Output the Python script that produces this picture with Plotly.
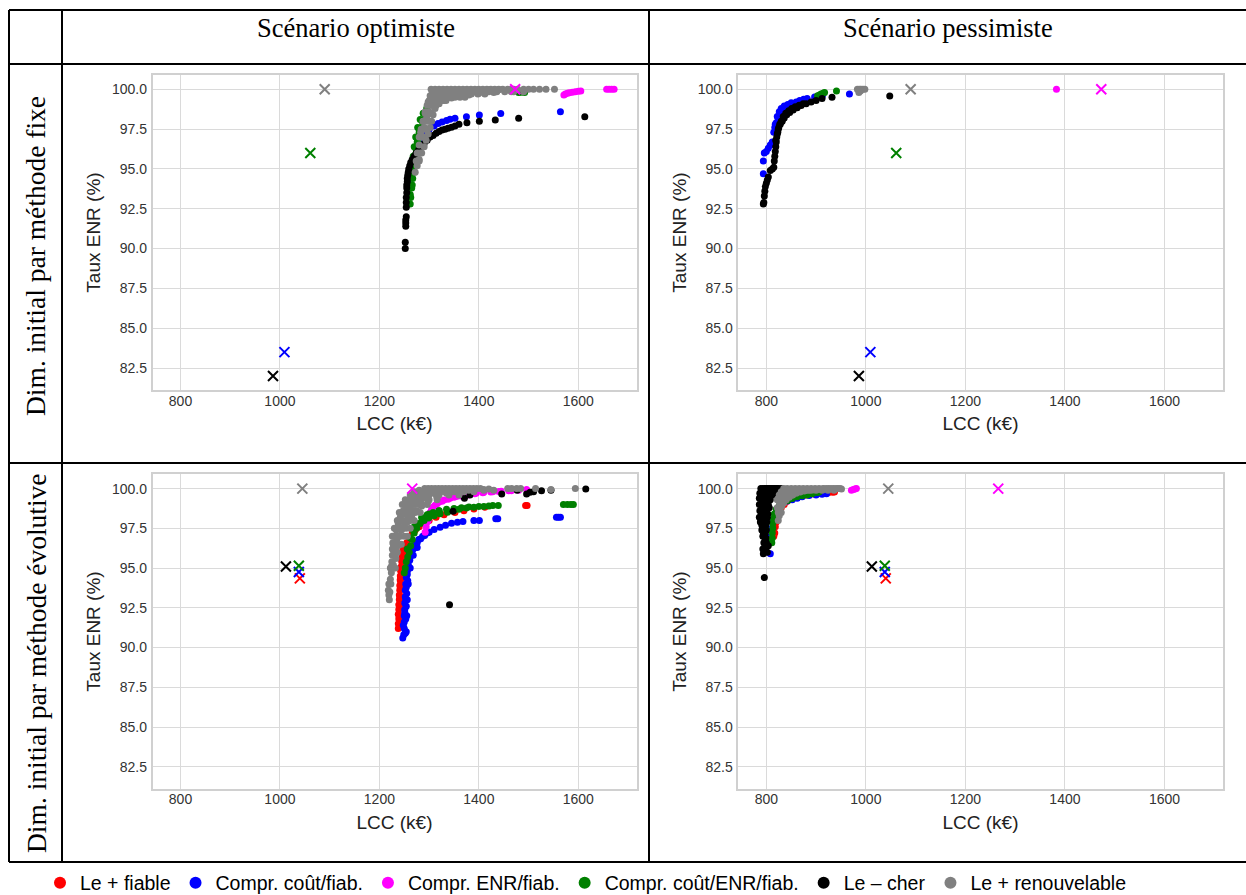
import plotly.graph_objects as go

# ---------------- data ----------------
SERIES = ["Le + fiable", "Compr. coût/fiab.", "Compr. ENR/fiab.",
          "Compr. coût/ENR/fiab.", "Le – cher", "Le + renouvelable"]
COLORS = ["#ff0000", "#0000ff", "#ff00ff", "#008000", "#000000", "#808080"]

COL_TITLES = ["Scénario optimiste", "Scénario pessimiste"]
ROW_TITLES = ["Dim. initial par méthode fixe", "Dim. initial par méthode évolutive"]
X_TICKS = [800, 1000, 1200, 1400, 1600]
Y_TICKS = [82.5, 85.0, 87.5, 90.0, 92.5, 95.0, 97.5, 100.0]
X_TITLE = "LCC (k€)"
Y_TITLE = "Taux ENR (%)"

# initial designs (x markers), per row, per series (None = absent)
init_fixed_lcc = [None, 1009, 1473, 1061, 986, 1090]
init_fixed_enr = [None, 83.5, 100.0, 96.0, 82.0, 100.0]
init_evol_lcc = [1040, 1038, 1266, 1038, 1012, 1045]
init_evol_enr = [94.35, 94.75, 100.0, 95.15, 95.1, 100.0]

# ---- panel A : fixed / optimist ----
A_red_lcc, A_red_enr = [], []
A_blue_lcc = [1258, 1262, 1266, 1270, 1275, 1280, 1285, 1292, 1300, 1310, 1318, 1326, 1335, 1342, 1352, 1375, 1401, 1444, 1564]
A_blue_enr = [94.3, 94.8, 95.2, 95.6, 96.1, 96.6, 96.9, 97.2, 97.5, 97.7, 97.85, 97.95, 98.05, 98.12, 98.18, 98.28, 98.39, 98.49, 98.6]
A_mag_lcc = [1465, 1470, 1571, 1574, 1578, 1582, 1588, 1594, 1600, 1605, 1657, 1662, 1667, 1672]
A_mag_enr = [100, 100, 99.64, 99.7, 99.75, 99.78, 99.82, 99.85, 99.88, 99.9, 100, 100, 100, 100]
A_green_lcc = [1262, 1262, 1263, 1264, 1266, 1268, 1270, 1273, 1277, 1282, 1288, 1295, 1305,
               1266, 1270, 1272, 1275, 1279, 1284, 1290, 1298, 1480, 1485, 1492,
               1263, 1265, 1267, 1269, 1271, 1274, 1277, 1281, 1286, 1292, 1268, 1272, 1276, 1280]
A_green_enr = [92.8, 93.4, 94.0, 94.6, 95.2, 95.8, 96.4, 97.0, 97.6, 98.1, 98.5, 98.8, 99.1,
               94.0, 94.8, 95.6, 96.3, 97.0, 97.6, 98.1, 98.5, 99.8, 99.82, 99.8,
               93.2, 93.8, 94.4, 95.0, 95.6, 96.2, 96.8, 97.4, 98.0, 98.5, 95.0, 95.9, 96.7, 97.3]
A_black_lcc = [1252, 1252, 1253, 1253, 1253, 1254, 1254, 1254, 1254, 1255, 1255, 1255, 1256, 1256, 1257, 1258, 1259,
               1261, 1263, 1266, 1270, 1274, 1279, 1284, 1290, 1296, 1302, 1308, 1314, 1320, 1326, 1332, 1338,
               1345, 1352, 1360, 1376, 1401, 1433, 1480, 1613]
A_black_enr = [90.0, 90.4, 91.4, 91.6, 91.8, 92.0, 92.6, 92.9, 93.2, 93.5, 93.8, 94.0, 94.2, 94.4, 94.6, 94.8, 95.0,
               95.2, 95.4, 95.6, 95.8, 96.0, 96.2, 96.4, 96.6, 96.8, 97.0, 97.1, 97.25, 97.35, 97.45, 97.5, 97.55,
               97.62, 97.7, 97.8, 97.9, 98.0, 98.07, 98.18, 98.28]
A_grey_lcc = [1272, 1276, 1280, 1285, 1290, 1294, 1298, 1302, 1305, 1308, 1312, 1320, 1330, 1345, 1360, 1380, 1400, 1430, 1465,
              1285, 1290, 1295, 1300, 1305, 1310, 1318, 1330, 1345, 1360, 1280, 1283, 1288, 1292, 1298, 1302,
              1315, 1325, 1340, 1355, 1370, 1385, 1400, 1420, 1440,
              1304, 1312, 1320, 1328, 1336, 1344, 1352, 1360, 1368, 1376, 1384, 1392, 1400, 1408, 1416, 1424,
              1432, 1440, 1448, 1458, 1468, 1478, 1490, 1500, 1510, 1522, 1535, 1552,
              1296, 1302, 1308, 1314,
              1300, 1306, 1312, 1318, 1326, 1334,
              1304, 1312, 1320, 1328, 1336, 1344, 1352, 1362, 1372,
              1306, 1314, 1322, 1330, 1340, 1350, 1360, 1372, 1385, 1398, 1412,
              1310, 1320, 1330, 1342, 1354, 1366, 1378, 1392, 1406, 1420, 1436, 1452, 1470, 1490,
              1292, 1298, 1304, 1288, 1294, 1300, 1284, 1290, 1296, 1280, 1286, 1292, 1276, 1282, 1274, 1280]
A_grey_enr = [94.8, 95.2, 95.6, 96.0, 96.4, 96.8, 97.2, 97.6, 98.0, 98.4, 98.8, 99.1, 99.3, 99.45, 99.55, 99.65, 99.75, 99.8, 99.85,
              97.0, 97.6, 98.2, 98.6, 99.0, 99.4, 99.6, 99.8, 99.9, 99.7, 96.5, 97.3, 98.0, 98.6, 99.2, 99.6,
              99.5, 99.7, 99.75, 99.85, 99.9, 99.92, 99.95, 99.97, 99.97,
              100, 100, 100, 100, 100, 100, 100, 100, 100, 100, 100, 100, 100, 100, 100, 100,
              100, 100, 100, 100, 100, 100, 100, 100, 100, 100, 100, 100,
              99.0, 99.0, 99.0, 99.0,
              99.3, 99.3, 99.3, 99.3, 99.3, 99.3,
              99.5, 99.5, 99.5, 99.5, 99.5, 99.5, 99.5, 99.5, 99.5,
              99.7, 99.7, 99.7, 99.7, 99.7, 99.7, 99.7, 99.7, 99.7, 99.7, 99.7,
              99.85, 99.85, 99.85, 99.85, 99.85, 99.85, 99.85, 99.85, 99.85, 99.85, 99.85, 99.85, 99.85, 99.85,
              98.5, 98.5, 98.5, 98.0, 98.0, 98.0, 97.5, 97.5, 97.5, 97.0, 97.0, 97.0, 96.0, 96.0, 95.5, 95.5]

# ---- panel B : fixed / pessimist ----
B_red_lcc, B_red_enr = [], []
B_blue_lcc = [794, 794, 796, 800, 804, 808, 812, 815, 817, 820, 824, 828, 833, 840, 846, 852, 860, 867, 875, 882, 897, 905, 913, 967,
              818, 822, 826, 830, 836, 843, 850]
B_blue_enr = [94.7, 95.5, 96.0, 96.1, 96.3, 96.5, 96.7, 97.3, 97.6, 97.9, 98.2, 98.45, 98.65, 98.85, 99.0, 99.1, 99.2, 99.3, 99.38, 99.43, 99.52, 99.58, 99.63, 99.7,
              97.8, 98.3, 98.6, 98.8, 98.95, 99.05, 99.15]
B_mag_lcc = [1383]
B_mag_enr = [100.0]
B_green_lcc = [903, 907, 910, 914, 917, 941]
B_green_enr = [99.6, 99.65, 99.7, 99.75, 99.8, 99.9]
B_black_lcc = [794, 795, 796, 797, 798, 800, 802, 804, 808, 812, 815, 816, 817, 818, 819, 820, 821, 823, 825, 828, 832, 836,
               841, 847, 854, 862, 870, 880, 890, 900, 912, 932, 1048,
               819, 822, 824, 827, 830, 834, 839, 845, 851, 858, 866, 874]
B_black_enr = [92.8, 92.9, 93.3, 93.6, 93.9, 94.1, 94.3, 94.5, 94.9, 95.0, 95.1, 95.5, 95.8, 96.1, 96.4, 96.7, 97.0, 97.3, 97.6, 97.8, 98.0, 98.2,
               98.4, 98.55, 98.7, 98.85, 98.98, 99.1, 99.2, 99.3, 99.42, 99.5, 99.58,
               96.8, 97.2, 97.5, 97.8, 98.0, 98.3, 98.5, 98.65, 98.8, 98.9, 99.0, 99.1]
B_grey_lcc = [983, 987, 990, 994, 998, 986, 989]
B_grey_enr = [100, 100, 100, 100, 100, 99.8, 99.9]

# ---- panel C : evolutive / optimist ----
C_red_lcc = [1238, 1238, 1239, 1238, 1239, 1239, 1240, 1240, 1241, 1241, 1242, 1242, 1243, 1244, 1245, 1246, 1248, 1251,
             1255, 1260, 1266, 1272, 1280, 1290, 1300, 1314, 1330, 1352, 1370, 1390, 1412, 1494, 1497,
             1242, 1243, 1243, 1244, 1245, 1246,
             1240, 1240, 1241, 1241, 1242, 1242, 1243, 1245, 1247]
C_red_enr = [91.2, 91.5, 91.8, 92.1, 92.4, 92.7, 93.0, 93.3, 93.6, 93.9, 94.2, 94.5, 94.8, 95.1, 95.4, 95.7, 96.0, 96.3,
             96.6, 96.9, 97.2, 97.4, 97.6, 97.8, 98.0, 98.2, 98.35, 98.5, 98.6, 98.72, 98.83, 98.93, 98.93,
             91.4, 92.0, 92.6, 93.2, 93.8, 94.4,
             91.3, 91.9, 92.5, 93.1, 93.7, 94.3, 94.9, 95.5, 96.1]
C_blue_lcc = [1247, 1249, 1250, 1250, 1250, 1251, 1251, 1252, 1252, 1253, 1254, 1256, 1258, 1261, 1265, 1270, 1276, 1283,
              1291, 1300, 1310, 1322, 1333, 1345, 1357, 1368, 1390, 1401, 1434, 1438, 1556, 1560, 1564,
              1254, 1255, 1256, 1258, 1262, 1268, 1276,
              1248, 1251, 1253, 1254, 1256, 1258, 1261, 1264, 1268, 1273, 1279, 1287, 1296,
              1252, 1253, 1254, 1255, 1257]
C_blue_enr = [90.6, 90.8, 91.2, 91.6, 92.0, 92.4, 92.8, 93.2, 93.6, 94.0, 94.4, 94.8, 95.2, 95.6, 96.0, 96.3, 96.6, 96.85,
              97.05, 97.25, 97.42, 97.57, 97.7, 97.82, 97.88, 97.93, 97.99, 98.0, 98.1, 98.1, 98.2, 98.2, 98.2,
              91.0, 92.0, 93.0, 94.0, 95.0, 95.8, 96.3,
              91.4, 92.2, 93.0, 93.8, 94.6, 95.1, 95.5, 95.9, 96.2, 96.5, 96.8, 97.0, 97.2,
              90.9, 91.8, 92.6, 93.4, 94.2]
C_mag_lcc = [1292, 1294, 1296, 1300, 1305, 1312, 1320, 1330, 1342, 1355, 1368, 1380, 1395, 1410, 1428, 1445, 1465, 1480, 1496,
             1298, 1302, 1308, 1316, 1326, 1338, 1350, 1364, 1378, 1392, 1408, 1424, 1440, 1460]
C_mag_enr = [97.25, 97.6, 97.9, 98.3, 98.7, 98.95, 99.15, 99.28, 99.4, 99.5, 99.58, 99.64, 99.72, 99.77, 99.81, 99.84, 99.87, 99.9, 99.94,
             98.0, 98.5, 98.85, 99.05, 99.2, 99.33, 99.45, 99.53, 99.6, 99.68, 99.74, 99.79, 99.82, 99.86]
C_green_lcc = [1250, 1252, 1254, 1257, 1260, 1263, 1266, 1270, 1275, 1282, 1290, 1299, 1310, 1322, 1337, 1350, 1360, 1375,
               1390, 1410, 1428, 1439, 1570, 1578, 1585, 1590, 1270, 1285, 1300, 1320,
               1256, 1262, 1268, 1276, 1286, 1296, 1308, 1320, 1335, 1350, 1365, 1380, 1400, 1420]
C_green_enr = [94.7, 95.0, 95.4, 95.7, 96.0, 96.4, 96.8, 97.2, 97.5, 97.8, 98.0, 98.15, 98.3, 98.42, 98.52, 98.62, 98.7, 98.78,
               98.83, 98.88, 98.93, 98.93, 99.0, 99.0, 99.0, 99.0, 97.6, 98.2, 98.4, 98.6,
               96.2, 96.9, 97.4, 97.8, 98.1, 98.35, 98.5, 98.6, 98.7, 98.75, 98.8, 98.85, 98.88, 98.9]
C_black_lcc = [1341, 1348, 1371, 1382, 1446, 1477, 1496, 1503, 1510, 1526, 1545, 1615]
C_black_enr = [92.7, 98.57, 99.39, 99.6, 99.66, 99.9, 99.66, 99.77, 99.8, 99.87, 99.9, 99.98]
C_grey_lcc = [1220, 1219, 1218, 1220, 1222, 1224, 1224, 1225, 1226, 1226, 1227, 1230, 1234, 1238, 1242, 1248, 1254, 1262, 1272, 1282,
              1228, 1232, 1237, 1242, 1248, 1256, 1265, 1275, 1285, 1298, 1315, 1335, 1360, 1390,
              1230, 1235, 1240, 1246, 1252, 1260, 1268, 1278, 1290, 1305, 1320, 1238, 1244, 1250, 1258, 1266, 1280, 1295, 1310,
              1230, 1236, 1233,
              1291, 1298, 1305, 1312, 1319, 1326, 1333, 1340, 1347, 1354, 1361, 1368, 1375, 1382, 1389, 1396, 1403,
              1410, 1420, 1458, 1466, 1476, 1484, 1514, 1545, 1594,
              1228, 1236, 1244,
              1226, 1234, 1250, 1256,
              1230, 1238, 1246, 1254, 1262,
              1236, 1244, 1252, 1262, 1270,
              1240, 1248, 1256, 1264, 1272, 1282,
              1246, 1254, 1262, 1272, 1286, 1296,
              1252, 1260, 1270, 1284, 1300, 1316,
              1262, 1270, 1280, 1300, 1320, 1340, 1360,
              1270, 1292, 1310, 1330, 1350, 1370, 1390,
              1280, 1300, 1340, 1380, 1410, 1430,
              1222, 1228, 1232, 1219, 1223, 1221]
C_grey_enr = [93.0, 93.3, 93.6, 94.0, 94.3, 94.7, 95.1, 95.4, 95.8, 96.2, 96.6, 97.0, 97.4, 97.8, 98.2, 98.6, 98.9, 99.2, 99.5, 99.8,
              95.2, 95.8, 96.4, 97.0, 97.5, 97.9, 98.3, 98.6, 98.9, 99.2, 99.5, 99.7, 99.85, 99.9,
              96.0, 96.8, 97.6, 98.0, 98.4, 98.7, 99.0, 99.3, 99.6, 99.8, 99.9, 97.0, 97.4, 97.9, 98.2, 98.6, 99.0, 99.4, 99.7,
              96.4, 96.0, 95.6,
              100, 100, 100, 100, 100, 100, 100, 100, 100, 100, 100, 100, 100, 100, 100, 100, 100,
              99.95, 99.98, 100, 100, 100, 100, 100, 99.95, 100,
              96.5, 96.5, 96.5,
              97.0, 97.0, 97.0, 97.0,
              97.5, 97.5, 97.5, 97.5, 97.5,
              98.0, 98.0, 98.0, 98.0, 98.0,
              98.5, 98.5, 98.5, 98.5, 98.5, 98.5,
              99.0, 99.0, 99.0, 99.0, 99.0, 99.0,
              99.3, 99.3, 99.3, 99.3, 99.3, 99.3,
              99.6, 99.6, 99.6, 99.6, 99.6, 99.6, 99.6,
              99.8, 99.8, 99.8, 99.8, 99.8, 99.8, 99.8,
              99.9, 99.9, 99.9, 99.9, 99.9, 99.9,
              95.0, 95.0, 95.0, 94.0, 94.0, 93.5]

# ---- panel D : evolutive / pessimist ----
D_red_lcc = [815, 817, 818, 820, 822, 826, 830, 836, 842, 850, 858, 867, 877, 887, 896, 905, 915, 925, 933, 937]
D_red_enr = [97.0, 97.2, 97.6, 97.9, 98.2, 98.5, 98.8, 99.0, 99.2, 99.35, 99.45, 99.5, 99.58, 99.63, 99.66, 99.7, 99.72, 99.75, 99.77, 99.78]
D_blue_lcc = [808, 806, 809, 811, 814, 818, 824, 832, 842, 852, 862, 872, 886, 900, 912, 921]
D_blue_enr = [95.9, 96.6, 97.0, 97.5, 98.0, 98.4, 98.8, 99.05, 99.22, 99.3, 99.4, 99.48, 99.56, 99.6, 99.65, 99.67]
D_mag_lcc = [971, 975, 978, 981]
D_mag_enr = [99.9, 99.95, 99.98, 100.0]
D_green_lcc = [811, 812, 812, 813, 813, 814, 816, 820, 826, 834, 843, 852, 862, 872, 882, 892, 902, 906]
D_green_enr = [96.6, 96.9, 97.2, 97.5, 97.8, 98.1, 98.4, 98.7, 98.9, 99.1, 99.25, 99.38, 99.48, 99.55, 99.6, 99.68, 99.75, 99.78]
D_black_lcc = [796, 794, 796, 797, 795, 798, 793, 796, 791, 795, 788, 793, 798, 786, 790, 795, 800, 791, 796, 802, 794, 800,
               806, 798, 804, 810, 800, 805, 810, 815, 820, 808, 806, 803, 801, 800, 799, 812, 816, 818, 825, 830, 802, 804,
               789, 793, 797, 801, 806, 811, 816, 821,
               787, 792, 797, 802, 808, 814,
               786, 790, 795, 800, 805,
               786, 790, 794, 799, 804,
               787, 791, 796, 801,
               789, 793, 797, 802,
               791, 795, 799,
               794, 798,
               797, 800,
               793]
D_black_enr = [94.4, 95.9, 96.1, 96.3, 96.6, 96.8, 97.0, 97.2, 97.4, 97.6, 97.9, 98.1, 98.3, 98.2, 98.5, 98.7, 98.9, 98.9, 99.1, 99.2, 99.4, 99.5,
               99.6, 99.7, 99.8, 99.85, 100, 100, 100, 100, 100, 99.3, 98.8, 98.4, 97.9, 97.4, 96.9, 99.6, 99.8, 99.95, 100, 100, 96.0, 96.4,
               100, 100, 100, 100, 100, 100, 100, 100,
               99.7, 99.7, 99.7, 99.7, 99.7, 99.7,
               99.4, 99.4, 99.4, 99.4, 99.4,
               99.0, 99.0, 99.0, 99.0, 99.0,
               98.6, 98.6, 98.6, 98.6,
               98.2, 98.2, 98.2, 98.2,
               97.7, 97.7, 97.7,
               97.2, 97.2,
               96.6, 96.6,
               96.2]
D_grey_lcc = [824, 826, 828, 831, 835, 840, 846, 853, 860, 868, 876, 885, 895, 905, 915, 925, 935, 944, 951, 822, 822, 826, 830,
              835, 842, 850, 858, 866, 874, 882, 890, 898, 906, 914, 830, 838, 846, 855, 865, 827, 833,
              840, 850, 860, 870, 880, 890, 900, 912, 924, 936, 832, 842, 852, 826, 834, 824, 830, 920, 930, 940, 948]
D_grey_enr = [98.0, 98.3, 98.6, 98.9, 99.1, 99.3, 99.45, 99.6, 99.7, 99.78, 99.85, 99.9, 99.93, 99.96, 99.98, 100, 100, 100, 99.98, 98.8, 99.3, 99.6, 99.8,
              100, 100, 100, 100, 100, 100, 100, 100, 100, 100, 100, 99.4, 99.7, 99.85, 99.92, 99.95, 99.0, 99.5,
              99.9, 99.9, 99.9, 99.9, 99.9, 99.9, 99.9, 99.9, 99.9, 99.9, 99.6, 99.6, 99.6, 99.2, 99.2, 98.5, 98.5, 100, 100, 100, 100]

PANELS = [
    [(A_red_lcc, A_red_enr), (A_blue_lcc, A_blue_enr), (A_mag_lcc, A_mag_enr),
     (A_green_lcc, A_green_enr), (A_black_lcc, A_black_enr), (A_grey_lcc, A_grey_enr)],
    [(B_red_lcc, B_red_enr), (B_blue_lcc, B_blue_enr), (B_mag_lcc, B_mag_enr),
     (B_green_lcc, B_green_enr), (B_black_lcc, B_black_enr), (B_grey_lcc, B_grey_enr)],
    [(C_red_lcc, C_red_enr), (C_blue_lcc, C_blue_enr), (C_mag_lcc, C_mag_enr),
     (C_green_lcc, C_green_enr), (C_black_lcc, C_black_enr), (C_grey_lcc, C_grey_enr)],
    [(D_red_lcc, D_red_enr), (D_blue_lcc, D_blue_enr), (D_mag_lcc, D_mag_enr),
     (D_green_lcc, D_green_enr), (D_black_lcc, D_black_enr), (D_grey_lcc, D_grey_enr)],
]
INITS = [(init_fixed_lcc, init_fixed_enr), (init_fixed_lcc, init_fixed_enr),
         (init_evol_lcc, init_evol_enr), (init_evol_lcc, init_evol_enr)]

# ---------------- layout geometry (px) ----------------
W, H = 1246, 895
def px(x): return x / W
def py(y): return 1 - y / H

X_DOMAINS = [[px(152.5), px(636.5)], [px(738.3), px(1222.7)]]
Y_DOMAINS = [[py(390), py(75)], [py(788.7), py(474.3)]]

fig = go.Figure()

for p, panel in enumerate(PANELS):
    ax = "" if p == 0 else str(p + 1)
    xref, yref = "x" + ax, "y" + ax
    for s, (xs, ys) in enumerate(panel):
        fig.add_trace(go.Scatter(
            x=xs, y=ys, mode="markers", xaxis=xref, yaxis=yref,
            marker=dict(color=COLORS[s], size=7, line=dict(width=0)),
            name=SERIES[s], legendgroup=SERIES[s], legendrank=s + 1,
            showlegend=(p == 2), hoverinfo="x+y+name"))
    il, ie = INITS[p]
    for s in range(6):
        if il[s] is None:
            continue
        fig.add_trace(go.Scatter(
            x=[il[s]], y=[ie[s]], mode="markers", xaxis=xref, yaxis=yref,
            marker=dict(symbol="x-thin", size=10, line=dict(width=2, color=COLORS[s]), color=COLORS[s]),
            name=SERIES[s] + " (initial)", legendgroup=SERIES[s], showlegend=False))

tickfont = dict(family="Liberation Sans, Arial, sans-serif", size=14, color="#333333")
titlefont = dict(family="Liberation Sans, Arial, sans-serif", size=19, color="#222222")
layout_axes = {}
for p in range(4):
    r, c = divmod(p, 2)
    ax = "" if p == 0 else str(p + 1)
    layout_axes["xaxis" + ax] = dict(
        domain=X_DOMAINS[c], anchor="y" + ax, range=[743.7, 1717], tickvals=X_TICKS,
        showgrid=True, gridcolor="#dadada", gridwidth=1.2, zeroline=False,
        showline=True, linecolor="#d0d0d0", linewidth=1.5, mirror=True,
        ticks="", ticklabelstandoff=-3, tickfont=tickfont,
        title=dict(text=X_TITLE, font=titlefont, standoff=9))
    layout_axes["yaxis" + ax] = dict(
        domain=Y_DOMAINS[r], anchor="x" + ax, range=[81.12, 100.9], tickvals=Y_TICKS,
        tickformat=".1f",
        showgrid=True, gridcolor="#dadada", gridwidth=1.2, zeroline=False,
        showline=True, linecolor="#d0d0d0", linewidth=1.5, mirror=True,
        ticks="", ticklabelstandoff=1, tickfont=tickfont,
        title=dict(text=Y_TITLE, font=titlefont, standoff=6))

# table lines
line_style = dict(color="black", width=2)
shapes = []
for yy in [10, 64, 463, 862]:
    shapes.append(dict(type="line", xref="paper", yref="paper", x0=px(9), x1=px(1246), y0=py(yy), y1=py(yy), line=line_style))
for xx in [9, 62, 649]:
    shapes.append(dict(type="line", xref="paper", yref="paper", x0=px(xx), x1=px(xx), y0=py(10), y1=py(862), line=line_style))

head_font = dict(family="Liberation Serif, Times New Roman, serif", size=26.5, color="black")
row_font = dict(family="Liberation Serif, Times New Roman, serif", size=27.5, color="black")
annotations = [
    dict(text=COL_TITLES[0], x=px(355.5), y=py(28), xref="paper", yref="paper", showarrow=False, font=head_font, xanchor="center", yanchor="middle"),
    dict(text=COL_TITLES[1], x=px(948), y=py(28), xref="paper", yref="paper", showarrow=False, font=head_font, xanchor="center", yanchor="middle"),
    dict(text=ROW_TITLES[0], x=px(36), y=py(256), xref="paper", yref="paper", showarrow=False, font=row_font, textangle=-90, xanchor="center", yanchor="middle"),
    dict(text=ROW_TITLES[1], x=px(36), y=py(663), xref="paper", yref="paper", showarrow=False, font=row_font, textangle=-90, xanchor="center", yanchor="middle"),
]

fig.update_layout(
    width=W, height=H, autosize=False,
    margin=dict(l=0, r=0, t=0, b=0, autoexpand=False),
    paper_bgcolor="white", plot_bgcolor="white",
    shapes=shapes, annotations=annotations,
    showlegend=True,
    legend=dict(orientation="h", x=px(40), y=py(883), xanchor="left", yanchor="middle",
                xref="container", yref="container",
                font=dict(family="Liberation Sans Narrow, Arial Narrow, Liberation Sans, sans-serif", size=19.5, color="black"),
                itemsizing="constant", bgcolor="rgba(0,0,0,0)", borderwidth=0,
                tracegroupgap=0, itemwidth=30),
    **layout_axes,
)

fig.write_html("out.html", config={"displayModeBar": False},
               post_script="document.body.style.margin='0';document.body.style.overflow='hidden';")
